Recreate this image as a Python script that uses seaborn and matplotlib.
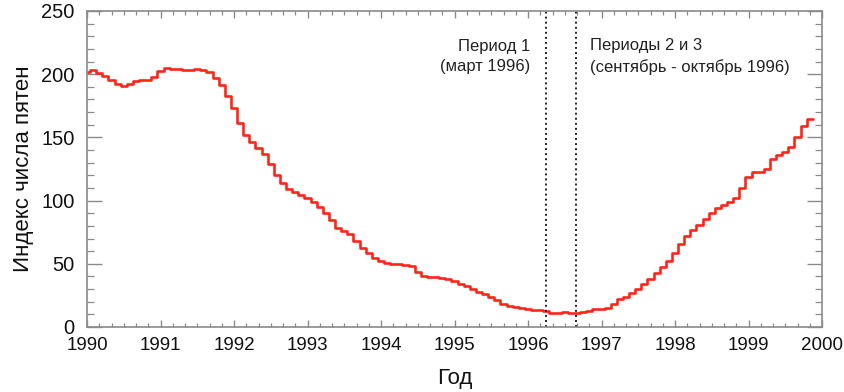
import numpy as np
import pandas as pd
import matplotlib
matplotlib.use("Agg")
import matplotlib.pyplot as plt
import seaborn as sns
from matplotlib.ticker import MultipleLocator

# Monthly smoothed sunspot index
sn_dec1989 = [201.5]
sn_1990 = [203.0, 201.2, 198.6, 195.4, 192.3, 190.7, 192.3, 194.6, 195.4, 195.5, 198.0, 202.8]
sn_1991 = [204.6, 204.4, 204.0, 203.3, 203.3, 203.8, 203.6, 202.0, 196.7, 191.5, 183.0, 173.0]
sn_1992 = [161.0, 152.0, 146.0, 142.0, 137.0, 129.0, 120.0, 113.7, 109.5, 106.6, 104.8, 101.8]
sn_1993 = [99.0, 95.0, 90.5, 84.5, 78.0, 76.0, 73.3, 68.3, 62.7, 58.3, 54.3, 52.2]
sn_1994 = [50.4, 49.6, 49.6, 49.3, 48.3, 43.8, 40.3, 39.6, 39.6, 39.1, 37.7, 36.0]
sn_1995 = [34.3, 32.3, 30.0, 27.5, 26.0, 24.0, 21.5, 18.5, 16.8, 15.6, 14.8, 14.2]
sn_1996 = [13.6, 13.2, 12.4, 11.3, 11.2, 11.5, 11.3, 11.2, 12.1, 12.9, 14.0, 14.2]
sn_1997 = [15.3, 18.2, 21.9, 24.0, 27.1, 30.0, 33.8, 38.3, 43.0, 47.2, 52.0, 58.3]
sn_1998 = [66.0, 72.0, 76.7, 80.7, 85.5, 90.0, 94.0, 96.8, 98.5, 102.3, 110.2, 118.4]
sn_1999 = [122.9, 122.9, 124.7, 132.6, 136.0, 138.2, 142.7, 150.6, 159.3, 164.3, 164.3]

year_ticks = list(range(1990, 2001))
y_ticks = [0, 50, 100, 150, 200, 250]
period_lines = [1996.25, 1996.65]
period1_text = "Период 1\n(март 1996)"
period23_text = "Периоды 2 и 3\n(сентябрь - октябрь 1996)"
xlabel = "Год"
ylabel = "Индекс числа пятен"

values = (sn_dec1989 + sn_1990 + sn_1991 + sn_1992 + sn_1993 + sn_1994 +
          sn_1995 + sn_1996 + sn_1997 + sn_1998 + sn_1999)
month_idx = np.arange(len(values)) - 1
df = pd.DataFrame({"year": 1990 + (month_idx + 0.5) / 12.0, "sn": values})

sns.set_style("white")
plt.rcParams["font.family"] = ["Liberation Sans", "DejaVu Sans"]

fig = plt.figure(figsize=(8.45, 3.92), dpi=100)
ax = fig.add_axes([87 / 845, 1 - 327 / 392, (822 - 87) / 845, (327 - 11) / 392])

sns.lineplot(data=df, x="year", y="sn", ax=ax, color="#ff2418", lw=1.9,
             drawstyle="steps-post", estimator=None, sort=True)

for xv in period_lines:
    ax.axvline(xv, color="#222222", lw=1.4, ls=(0, (1, 1.6)))

ax.text(1996.03, 214, period1_text, ha="right", va="center", fontsize=12,
        linespacing=1.45, color="#222222")
ax.text(1996.84, 214, period23_text, ha="left", va="center", fontsize=12,
        linespacing=1.45, color="#222222")

ax.set_xlim(1990, 2000)
ax.set_ylim(0, 250)
ax.set_xticks(year_ticks)
ax.set_xticklabels([str(y) for y in year_ticks], fontsize=13.5)
ax.set_yticks(y_ticks)
ax.set_yticklabels([str(v) for v in y_ticks], fontsize=14.5)
ax.xaxis.set_minor_locator(MultipleLocator(1 / 6))
ax.yaxis.set_minor_locator(MultipleLocator(10))

ax.tick_params(axis="x", which="major", direction="in", length=5, width=1,
               color="#8a8a8a", top=True, bottom=True, pad=7, labelcolor="#111111")
ax.tick_params(axis="x", which="minor", direction="in", length=3, width=0.9,
               color="#8a8a8a", top=True, bottom=True)
ax.tick_params(axis="y", which="major", direction="in", length=11, width=1,
               color="#8a8a8a", left=True, right=True, pad=9, labelcolor="#111111")
ax.tick_params(axis="y", which="minor", direction="in", length=5, width=0.9,
               color="#8a8a8a", left=True, right=True)

for s in ax.spines.values():
    s.set_color("#8a8a8a")
    s.set_linewidth(1.2)

ax.set_xlabel(xlabel, fontsize=16, labelpad=10, color="#111111")
ax.set_ylabel(ylabel, fontsize=16, labelpad=5, color="#111111")

fig.savefig("out.png", dpi=100)
